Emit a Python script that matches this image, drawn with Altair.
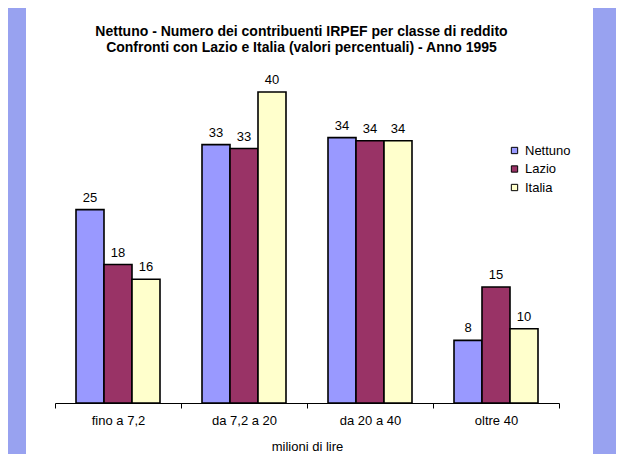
import altair as alt
import pandas as pd

categories = ["fino a 7,2", "da 7,2 a 20", "da 20 a 40", "oltre 40"]
series = ["Nettuno", "Lazio", "Italia"]
nettuno = [25.0, 33.4, 34.3, 8.1]
lazio = [17.9, 32.9, 33.9, 15.0]
italia = [16.0, 40.2, 33.9, 9.6]
colors = ["#9999FF", "#993366", "#FFFFCC"]

rows = []
for name, vals in zip(series, [nettuno, lazio, italia]):
    for c, v in zip(categories, vals):
        rows.append({"classe": c, "serie": name, "valore": v})
df = pd.DataFrame(rows)

FONT = "Liberation Sans"
FS = 13

x = alt.X(
    "classe:N",
    sort=categories,
    scale=alt.Scale(range=[29, 533], paddingInner=0, paddingOuter=0),
    axis=alt.Axis(
        title="milioni di lire",
        orient="bottom",
        offset=-51,
        tickBand="extent",
        tickSize=5,
        tickColor="black",
        domainColor="black",
        domainWidth=1,
        labelAngle=0,
        labelFontSize=FS,
        labelFont=FONT,
        labelColor="black",
        labelPadding=6,
        titleFontSize=FS,
        titleFont=FONT,
        titleFontWeight="normal",
        titleColor="black",
        titlePadding=13,
        grid=False,
    ),
)
xo = alt.XOffset("serie:N", sort=series,
                 scale=alt.Scale(paddingInner=0, paddingOuter=0.75))
y = alt.Y("valore:Q", scale=alt.Scale(domain=[0, 44.6], range=[395, 50], nice=False, zero=True),
          axis=None)

bars = alt.Chart(df).mark_bar(stroke="black", strokeWidth=1.6).encode(
    x=x,
    xOffset=xo,
    y=y,
    color=alt.Color(
        "serie:N",
        sort=series,
        scale=alt.Scale(domain=series, range=colors),
        legend=alt.Legend(
            title=None,
            orient="none",
            legendX=482,
            legendY=136,
            padding=0,
            symbolType="square",
            symbolSize=40,
            symbolStrokeColor="black",
            symbolStrokeWidth=1,
            symbolOpacity=1,
            labelFontSize=FS,
            labelFont=FONT,
            labelColor="black",
            labelOffset=4,
            rowPadding=4.5,
        ),
    ),
)

labels = alt.Chart(df).mark_text(
    baseline="alphabetic", dy=-8, fontSize=FS, font=FONT, color="black"
).encode(
    x=x,
    xOffset=xo,
    y=y,
    text=alt.Text("valore:Q", format=".0f"),
)

chart = alt.layer(bars, labels).properties(
    width=567,
    height=446,
    autosize=alt.AutoSizeParams(type="none"),
    padding={"left": 18, "top": 0, "right": 23, "bottom": 0},
    background="#98A2F0",
    title=alt.Title(
        text=[
            "Nettuno - Numero dei contribuenti IRPEF per classe di reddito",
            "Confronti con Lazio e Italia (valori percentuali) - Anno 1995",
        ],
        font=FONT,
        fontSize=14,
        fontWeight="bold",
        color="black",
        anchor="middle",
        offset=-47,
        dx=-8,
        lineHeight=16,
    ),
).configure_view(fill="white", stroke=None)

chart.save("out.html", embed_options={"renderer": "svg", "actions": False})
